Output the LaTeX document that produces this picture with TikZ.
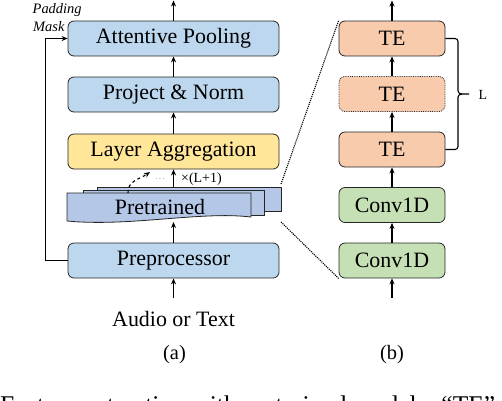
\documentclass[tikz,border=0pt]{standalone}
\usepackage{fontspec}
\setmainfont{Liberation Serif}
\usetikzlibrary{arrows.meta}
\definecolor{cblue}{HTML}{BDD7EE}
\definecolor{cpre}{HTML}{B4C7E7}
\definecolor{cyel}{HTML}{FFE699}
\definecolor{cpeach}{HTML}{F8CBAD}
\definecolor{cgreen}{HTML}{C5E0B4}
\tikzset{
  blk/.style={draw=black!85, line width=0.8bp, rounded corners=6bp, minimum width=211bp,
    minimum height=35bp, inner sep=0pt, font=\fontsize{22}{24}\selectfont},
  blkb/.style={blk, minimum width=106bp},
  arr/.style={-{Stealth[length=6bp,width=5bp]}, line width=1.3bp},
  zoomline/.style={densely dotted, line width=1.1bp},
  txt/.style={inner sep=0pt, font=\fontsize{22}{24}\selectfont},
}
\begin{document}
\begin{tikzpicture}[x=1bp,y=-1bp]
\useasboundingbox (0,0) rectangle (502,400);
\clip (0,0) rectangle (502,400);

% ---- (a) column ----
\node[blk, fill=cblue] (att) at (173.5,38.5) {Attentive Pooling};
\node[blk, fill=cblue] (proj) at (173.5,94.5) {Project \& Norm};
\node[blk, fill=cyel] (agg) at (173.5,151.5) {Layer Aggregation};
\node[blk, fill=cblue] (prep) at (173.5,260.5) {Preprocessor};

% pretrained stack
\filldraw[fill=cpre, draw=black!85, line width=0.8bp] (97,187) rectangle (281,211);
\filldraw[fill=cpre, draw=black!85, line width=0.8bp] (83,190) rectangle (264,215);
\filldraw[fill=cpre, draw=black!85, line width=0.8bp] (67,193) -- (251,193) -- (251,217)
   .. controls (200,211) and (130,227) .. (67,221) -- cycle;
\node[txt, anchor=base] (pre) at (160,214) {Pretrained};
\coordinate (pretop) at (173.5,187);
\coordinate (prebot) at (173.5,222);
\coordinate (dashs) at (128,193);
\coordinate (dashe) at (150,172);

\draw[arr] (prep.north) -- (prebot);
\draw[arr] (pretop) -- (agg.south);
\draw[arr] (proj.north) -- (att.south);
\draw[arr] (agg.north) -- (proj.south);
\draw[arr, dashed, line width=1.1bp] (dashs) to[out=95,in=215] (dashe);
\node[inner sep=0pt, font=\fontsize{7}{7}\selectfont] (dots) at (160,179) {$\cdots$};
\node[inner sep=0pt, anchor=west, font=\fontsize{14}{15}\selectfont] (mult) at (181,179) {×(L+1)};

\coordinate (outa) at (173.5,0.5);
\coordinate (ina) at (173.5,298);
\draw[arr] (att.north) -- (outa);
\draw[arr] (ina) -- (prep.south);
\draw[arr] (prep.west) -- ++(-22,0) |- (att.west);

\node[inner sep=0pt, anchor=west, font=\fontsize{14.5}{15}\selectfont\itshape] (pad) at (32.5,10) {Padding};
\node[inner sep=0pt, anchor=west, font=\fontsize{14.5}{15}\selectfont\itshape] (mask) at (33,27) {Mask};

\node[txt, anchor=base] (inp) at (173.5,326) {Audio or Text};
\node[inner sep=0pt, anchor=base, font=\fontsize{20.5}{22}\selectfont] (la) at (174.5,359) {(a)};

% ---- (b) column ----
\node[blkb, fill=cpeach] (te1) at (392,38.5) {TE};
\node[blkb, fill=cpeach, densely dotted] (te2) at (392,94) {TE};
\node[blkb, fill=cpeach] (te3) at (392,149.5) {TE};
\node[blkb, fill=cgreen] (c1) at (392,205) {Conv1D};
\node[blkb, fill=cgreen] (c2) at (392,260.5) {Conv1D};
\coordinate (outb) at (392,0.5);
\coordinate (inb) at (392,298);
\draw[arr] (inb) -- (c2.south);
\draw[arr] (c2.north) -- (c1.south);
\draw[arr] (c1.north) -- (te3.south);
\draw[arr] (te3.north) -- (te2.south);
\draw[arr] (te2.north) -- (te1.south);
\draw[arr] (te1.north) -- (outb);

% bracket
\coordinate (btip) at (469,94);
\draw[line width=1.1bp] (te1.east) -- (455,38.5) to[out=0,in=90] (458,41.5) -- (458,91)
   to[out=-90,in=180] (462,94) -- (btip);
\draw[line width=1.1bp] (te3.east) -- (455,149.5) to[out=0,in=-90] (458,146.5) -- (458,97)
   to[out=90,in=180] (462,94);
\node[inner sep=0pt, anchor=base west, font=\fontsize{14}{15}\selectfont] (lab) at (478.5,99) {L};

% zoom lines
\coordinate (zt) at (281,184);
\coordinate (zb) at (281,222);
\draw[zoomline] (zt) -- (te1.north west);
\draw[zoomline] (zb) -- (c2.south west);
\node[inner sep=0pt, anchor=base] (lb) at (392,359) {\fontsize{20.5}{22}\selectfont (b)};

% clipped caption
\node[inner sep=0pt, anchor=base west, font=\fontsize{25.6}{27}\selectfont] (cap) at (0,413)
  {Feature extraction with pretrained models. “TE” denotes};
\end{tikzpicture}
\end{document}
